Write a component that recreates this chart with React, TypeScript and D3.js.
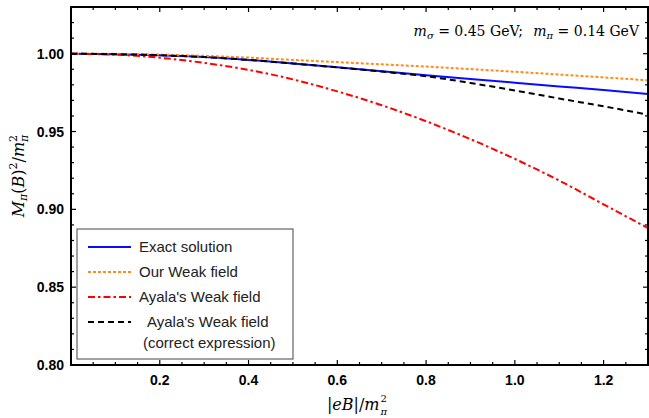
import React from "react";
import * as d3 from "d3";

const W = 649;
const H = 418;
const margin = { top: 7, right: 1, bottom: 53, left: 71 };
const innerW = W - margin.left - margin.right;
const innerH = H - margin.top - margin.bottom;

// |eB| / m_pi^2
const fieldValues = [0, 0.1, 0.2, 0.3, 0.4, 0.5, 0.6, 0.7, 0.8, 0.9, 1.0, 1.1, 1.2, 1.3];
const exactSolution = [1, 0.9997, 0.999, 0.9978, 0.996, 0.9937, 0.9913, 0.9888, 0.9862, 0.9838, 0.9814, 0.979, 0.9766, 0.9741];
const ourWeakField = [1, 0.9999, 0.9994, 0.9986, 0.9975, 0.996, 0.9946, 0.9932, 0.9917, 0.9901, 0.9884, 0.9866, 0.9848, 0.9829];
const ayalaWeakField = [1, 0.9994, 0.9974, 0.9941, 0.9896, 0.9835, 0.9758, 0.9669, 0.9566, 0.9451, 0.9324, 0.9185, 0.9032, 0.888];
const ayalaCorrected = [1, 0.9997, 0.999, 0.9978, 0.996, 0.9937, 0.9912, 0.9885, 0.9855, 0.9812, 0.9764, 0.9712, 0.9662, 0.9608];

const xTickLabels = ["0.2", "0.4", "0.6", "0.8", "1.0", "1.2"];
const yTickLabels = ["0.80", "0.85", "0.90", "0.95", "1.00"];

const series = [
  { name: "Exact solution", values: exactSolution, color: "#0a0aff", dash: "none" },
  { name: "Our Weak field", values: ourWeakField, color: "#ff8c1a", dash: "3,2" },
  { name: "Ayala's Weak field", values: ayalaWeakField, color: "#ff0000", dash: "7,3,2.5,3" },
  { name: "Ayala's Weak field", values: ayalaCorrected, color: "#000000", dash: "6,4" },
];

const labelFont = "Liberation Sans, Arial, sans-serif";
const mathFont = "DejaVu Serif, Liberation Serif, serif";

const App = () => {
  const x = d3.scaleLinear().domain([0, 1.3]).range([0, innerW]);
  const y = d3.scaleLinear().domain([0.8, 1.03]).range([innerH, 0]);

  const line = (vals: number[]) =>
    d3
      .line<number>()
      .x((_, i) => x(fieldValues[i]))
      .y((d) => y(d))
      .curve(d3.curveMonotoneX)(vals) || "";

  const xMinor = x.ticks(26);
  const yMinor = y.ticks(23);
  const xMajor = xTickLabels.map((t) => +t);
  const yMajor = yTickLabels.map((t) => +t);
  const isMajor = (v: number, list: number[]) => list.some((m) => Math.abs(m - v) < 1e-9);

  const legendX = 6;
  const legendY = 222;
  const xTitleX = margin.left + innerW / 2 + 20;

  return (
    <svg width={W} height={H} style={{ position: "absolute", left: 0, top: 0, background: "#fff" }}>
      <g transform={`translate(${margin.left},${margin.top})`}>
        <defs>
          <clipPath id="plotclip">
            <rect x={0} y={0} width={innerW} height={innerH} />
          </clipPath>
        </defs>

        {series.map((s, i) => (
          <path
            key={i}
            d={line(s.values)}
            fill="none"
            stroke={s.color}
            strokeWidth={2}
            strokeDasharray={s.dash}
            clipPath="url(#plotclip)"
          />
        ))}

        {/* ticks on all four sides */}
        {xMinor.map((t, i) => {
          const len = isMajor(t, xMajor) ? 5 : 3;
          return (
            <g key={"xt" + i} stroke="#000" strokeWidth={1.2}>
              <line x1={x(t)} x2={x(t)} y1={innerH} y2={innerH - len} />
              <line x1={x(t)} x2={x(t)} y1={0} y2={len} />
            </g>
          );
        })}
        {yMinor.map((t, i) => {
          const len = isMajor(t, yMajor) ? 5 : 3;
          return (
            <g key={"yt" + i} stroke="#000" strokeWidth={1.2}>
              <line x1={0} x2={len} y1={y(t)} y2={y(t)} />
              <line x1={innerW} x2={innerW - len} y1={y(t)} y2={y(t)} />
            </g>
          );
        })}

        <rect x={0} y={0} width={innerW} height={innerH} fill="none" stroke="#000" strokeWidth={2} />

        {xTickLabels.map((t, i) => (
          <text
            key={"xl" + i}
            x={x(+t)}
            y={innerH + 20}
            textAnchor="middle"
            fontFamily={labelFont}
            fontWeight="bold"
            fontSize={14}
          >
            {t}
          </text>
        ))}
        {yTickLabels.map((t, i) => (
          <text
            key={"yl" + i}
            x={-7}
            y={y(+t)}
            dy="0.36em"
            textAnchor="end"
            fontFamily={labelFont}
            fontWeight="bold"
            fontSize={14}
          >
            {t}
          </text>
        ))}

        {/* legend */}
        <g transform={`translate(${legendX},${legendY})`}>
          <rect x={0} y={0} width={216} height={130} fill="#fff" stroke="#444" strokeWidth={1} />
          {series.map((s, i) => {
            const cy = 18 + i * 25;
            return (
              <g key={"lg" + i}>
                <line x1={11} x2={54} y1={cy} y2={cy} stroke={s.color} strokeWidth={2} strokeDasharray={s.dash} />
                <text
                  x={i === 3 ? 70 : 62}
                  y={cy}
                  dy="0.35em"
                  fontFamily={labelFont}
                  fontSize={15}
                  fill="#222"
                >
                  {s.name}
                </text>
              </g>
            );
          })}
          <text x={66} y={18 + 3 * 25 + 21} dy="0.35em" fontFamily={labelFont} fontSize={15} fill="#222">
            (correct expression)
          </text>
        </g>

        {/* parameter annotation */}
        <text x={innerW - 9} y={29} textAnchor="end" fontFamily={mathFont} fontSize={14}>
          <tspan fontStyle="italic">m</tspan>
          <tspan fontSize={10} dy={3} fontStyle="italic">σ</tspan>
          <tspan dy={-3}> = 0.45 GeV;  </tspan>
          <tspan fontStyle="italic" dx={6}>m</tspan>
          <tspan fontSize={10} dy={3} fontStyle="italic">π</tspan>
          <tspan dy={-3}> = 0.14 GeV</tspan>
        </text>
      </g>

      {/* x axis title: superscript and subscript stacked as separate texts */}
      <text x={xTitleX} y={410} textAnchor="end" fontFamily={mathFont} fontSize={16}>
        <tspan>|</tspan>
        <tspan fontStyle="italic">eB</tspan>
        <tspan>|/</tspan>
        <tspan fontStyle="italic">m</tspan>
      </text>
      <text x={xTitleX + 1} y={402} fontFamily={mathFont} fontSize={10}>
        2
      </text>
      <text x={xTitleX + 1} y={415} fontFamily={mathFont} fontSize={10} fontStyle="italic">
        π
      </text>

      {/* y axis title */}
      <text
        transform={`translate(24,${margin.top + innerH / 2 - 10}) rotate(-90)`}
        textAnchor="middle"
        fontFamily={mathFont}
        fontSize={16}
      >
        <tspan fontStyle="italic">M</tspan>
        <tspan fontSize={11} fontStyle="italic" dy={3}>π</tspan>
        <tspan dy={-3}>(</tspan>
        <tspan fontStyle="italic">B</tspan>
        <tspan>)</tspan>
        <tspan fontSize={11} dy={-7}>2</tspan>
        <tspan dy={7}>/</tspan>
        <tspan fontStyle="italic">m</tspan>
        <tspan fontSize={11} dy={-7}>2</tspan>
        <tspan fontSize={11} fontStyle="italic" dx={-7} dy={11}>π</tspan>
      </text>
    </svg>
  );
};

export default App;
